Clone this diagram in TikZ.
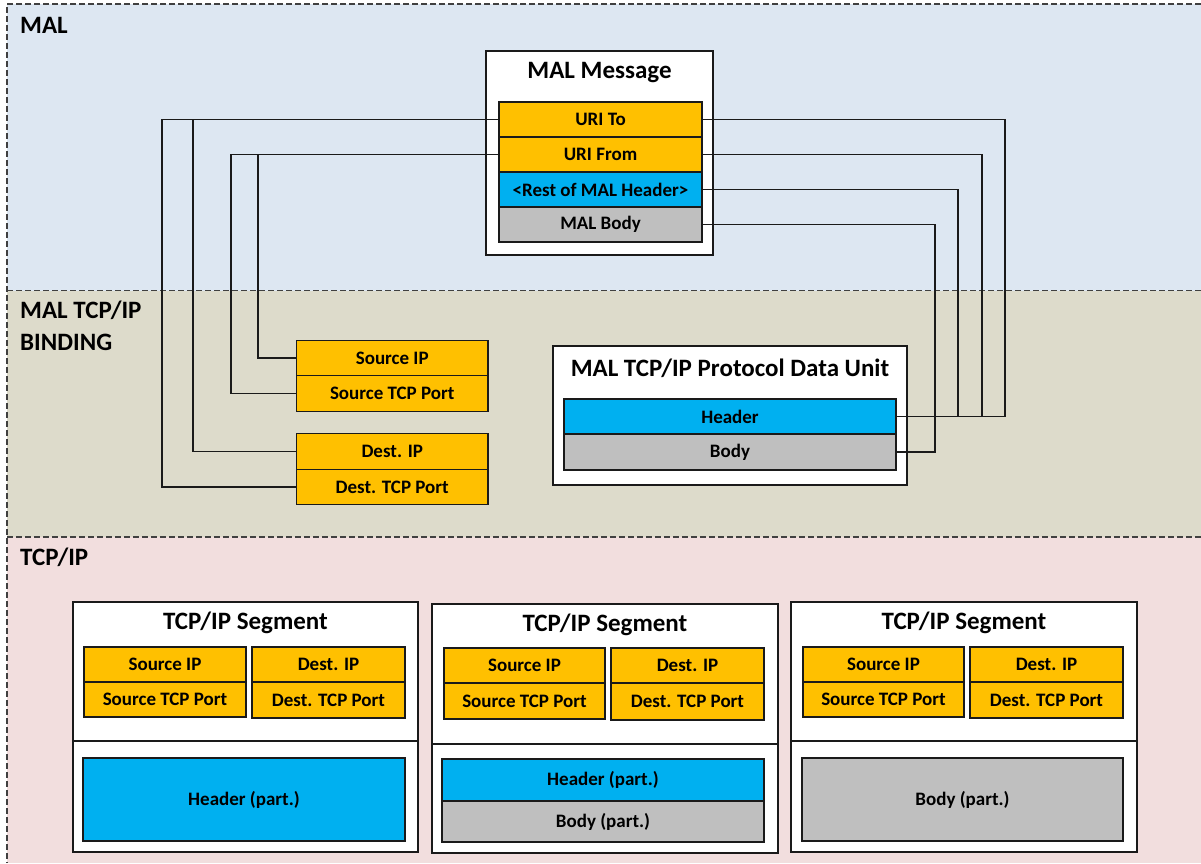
\documentclass[tikz,border=0pt]{standalone}
\usepackage{fontspec}
\setmainfont{Carlito}
\definecolor{malband}{HTML}{DDE7F2}
\definecolor{bindband}{HTML}{DDDBCB}
\definecolor{tcpband}{HTML}{F2DEDE}
\definecolor{fieldorange}{HTML}{FFC000}
\definecolor{fieldblue}{HTML}{00B0F0}
\definecolor{fieldgray}{HTML}{BFBFBF}
\definecolor{edge}{HTML}{1A1A1A}
\begin{document}
\begin{tikzpicture}[x=1pt,y=-1pt,
  bandline/.style={draw=black!75, line width=1.4pt, dash pattern=on 6pt off 3pt},
  bandlabel/.style={anchor=base west, inner sep=0pt, font=\fontsize{25}{32}\selectfont\bfseries, align=left},
  container/.style={draw=edge, fill=white, line width=1.3pt, inner sep=0pt, outer sep=0pt},
  title/.style={inner sep=0pt, font=\fontsize{25}{28}\selectfont\bfseries},
  field/.style={draw=edge, line width=1.3pt, inner sep=0pt, outer sep=0pt,
    font=\fontsize{19}{22}\selectfont\bfseries},
  ofield/.style={field, fill=fieldorange},
  bfield/.style={field, fill=fieldblue},
  gfield/.style={field, fill=fieldgray},
  wire/.style={draw=edge, line width=1.2pt}
]
\useasboundingbox (0,0) rectangle (1201,863);

% ---------- layer bands ----------
\fill[malband]  (7,4) rectangle (1201,290.5);
\fill[bindband] (7,290.5) rectangle (1201,537);
\fill[tcpband]  (7,537) rectangle (1201,863);
\draw[bandline] (1201,4) -- (7,4) -- (7,863);
\draw[bandline] (7,290.5) -- (1201,290.5);
\draw[bandline] (7,537) -- (1201,537);

\node[bandlabel] (lmal) at (20,33) {MAL};
\node[bandlabel] (lbind) at (20,318) {MAL TCP/IP};
\node[bandlabel] (lbind2) at (20,350) {BINDING};
\node[bandlabel] (ltcp) at (20,565) {TCP/IP};

% ---------- MAL message ----------
\node[container, minimum width=227pt, minimum height=204pt] (msg) at (599.5,153) {};
\node[title] (msgtitle) at (599.5,73) {MAL Message};
\node[ofield, minimum width=203pt, minimum height=35pt] (urito)   at (600.5,119.5) {URI To};
\node[ofield, minimum width=203pt, minimum height=35pt] (urifrom) at (600.5,154.5) {URI From};
\node[bfield, minimum width=203pt, minimum height=35pt] (rest)    at (600.5,189.5) {<Rest of MAL Header>};
\node[gfield, minimum width=203pt, minimum height=35pt] (malbody) at (600.5,224.5) {MAL Body};

% ---------- binding address fields ----------
\node[ofield, minimum width=191.5pt, minimum height=35.5pt] (bsrcip)   at (392.25,358) {Source IP};
\node[ofield, minimum width=191.5pt, minimum height=35.5pt] (bsrcport) at (392.25,393.5) {Source TCP Port};
\node[ofield, minimum width=191.5pt, minimum height=35.5pt] (bdstip)   at (392.25,451.5) {Dest. IP};
\node[ofield, minimum width=191.5pt, minimum height=35.5pt] (bdstport) at (392.25,487) {Dest. TCP Port};

% ---------- protocol data unit ----------
\node[container, minimum width=354pt, minimum height=139pt] (pdu) at (730,415.5) {};
\node[title] (pdutitle) at (730,368) {MAL TCP/IP Protocol Data Unit};
\node[bfield, minimum width=332pt, minimum height=35pt] (pduhead) at (730,416.5) {Header};
\node[gfield, minimum width=332pt, minimum height=36pt] (pdubody) at (730,452) {Body};

% ---------- connectors ----------
\coordinate (xa) at (162,0);
\coordinate (xb) at (193,0);
\coordinate (xc) at (231,0);
\coordinate (xd) at (258,0);
\coordinate (xe) at (1005,0);
\coordinate (xf) at (982,0);
\coordinate (xg) at (958,0);
\coordinate (xh) at (935,0);

\draw[wire] (urito.west) -| (xa |- bdstport.west) -- (bdstport.west);
\draw[wire] (urito.west) -| (xb |- bdstip.west) -- (bdstip.west);
\draw[wire] (urifrom.west) -| (xc |- bsrcport.west) -- (bsrcport.west);
\draw[wire] (urifrom.west) -| (xd |- bsrcip.west) -- (bsrcip.west);

\draw[wire] (urito.east) -| (xe |- pduhead.east) -- (pduhead.east);
\draw[wire] (urifrom.east) -| (xf |- pduhead.east) -- (pduhead.east);
\draw[wire] (rest.east) -| (xg |- pduhead.east) -- (pduhead.east);
\draw[wire] (malbody.east) -| (xh |- pdubody.east) -- (pdubody.east);

% ---------- TCP/IP segments ----------
% segment 1
\node[container, minimum width=345pt, minimum height=250pt] (seg1) at (245.5,727) {};
\draw[wire] (seg1.west |- 0,741) -- (seg1.east |- 0,741);
\node[title] (seg1title) at (245.5,623) {TCP/IP Segment};
\node[ofield, minimum width=162pt, minimum height=35pt] (s1srcip)   at (165,664.5) {Source IP};
\node[ofield, minimum width=162pt, minimum height=35pt] (s1srcport) at (165,699.5) {Source TCP Port};
\node[ofield, minimum width=153pt, minimum height=35pt] (s1dstip)   at (328.5,664.5) {Dest. IP};
\node[ofield, minimum width=153pt, minimum height=36pt] (s1dstport) at (328.5,700) {Dest. TCP Port};
\node[bfield, minimum width=322pt, minimum height=83pt] (s1head) at (244,799.5) {Header (part.)};

% segment 2
\node[container, minimum width=346pt, minimum height=249pt] (seg2) at (605,728.5) {};
\draw[wire] (seg2.west |- 0,744) -- (seg2.east |- 0,744);
\node[title] (seg2title) at (605,625) {TCP/IP Segment};
\node[ofield, minimum width=161pt, minimum height=35pt] (s2srcip)   at (524.5,665.5) {Source IP};
\node[ofield, minimum width=161pt, minimum height=36pt] (s2srcport) at (524.5,701) {Source TCP Port};
\node[ofield, minimum width=153pt, minimum height=35pt] (s2dstip)   at (687.5,665.5) {Dest. IP};
\node[ofield, minimum width=153pt, minimum height=37pt] (s2dstport) at (687.5,701.5) {Dest. TCP Port};
\node[bfield, minimum width=322pt, minimum height=42pt] (s2head) at (603,780) {Header (part.)};
\node[gfield, minimum width=322pt, minimum height=41pt] (s2body) at (603,821.5) {Body (part.)};

% segment 3
\node[container, minimum width=346pt, minimum height=250pt] (seg3) at (964,727) {};
\draw[wire] (seg3.west |- 0,741) -- (seg3.east |- 0,741);
\node[title] (seg3title) at (964,623) {TCP/IP Segment};
\node[ofield, minimum width=161pt, minimum height=35pt] (s3srcip)   at (883.5,664.5) {Source IP};
\node[ofield, minimum width=161pt, minimum height=35pt] (s3srcport) at (883.5,699.5) {Source TCP Port};
\node[ofield, minimum width=153pt, minimum height=35pt] (s3dstip)   at (1046.5,664.5) {Dest. IP};
\node[ofield, minimum width=153pt, minimum height=36pt] (s3dstport) at (1046.5,700) {Dest. TCP Port};
\node[gfield, minimum width=321pt, minimum height=83pt] (s3body) at (962.5,799.5) {Body (part.)};
\end{tikzpicture}
\end{document}
